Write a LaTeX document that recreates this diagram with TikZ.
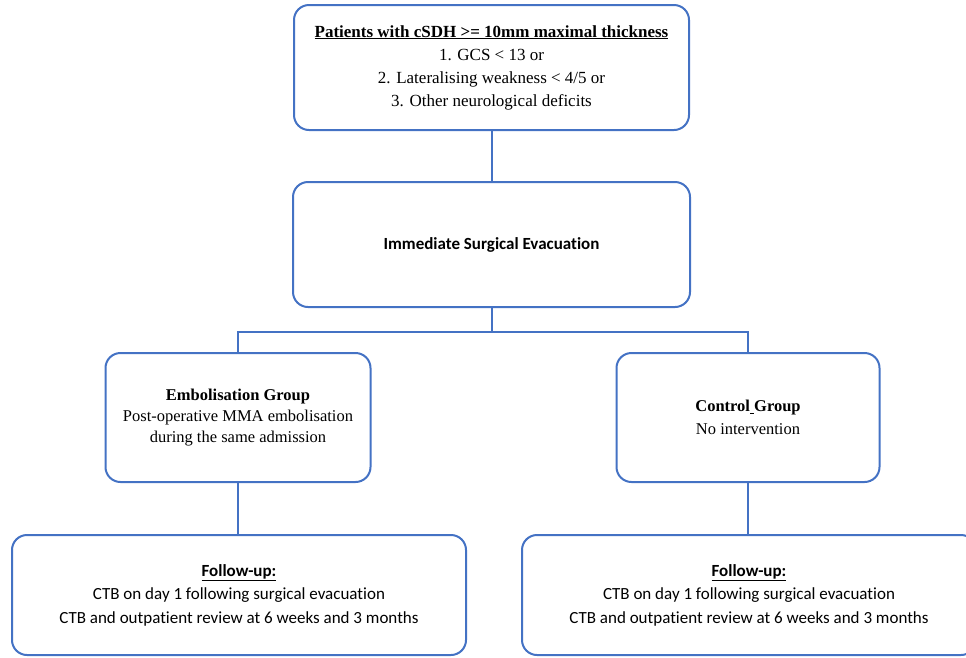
\documentclass[tikz,border=0pt]{standalone}
\usepackage{fontspec}
\setmainfont{Liberation Serif}
\newfontfamily\calfont[Ligatures=NoCommon]{Carlito}
\definecolor{boxblue}{HTML}{4472C4}
\begin{document}
\begin{tikzpicture}[x=1pt,y=-1pt,
  box/.style={draw=boxblue, line width=2pt, rounded corners=15pt, fill=white, align=center, inner sep=0pt},
  link/.style={draw=boxblue, line width=2pt}]
\useasboundingbox (0,0) rectangle (966,657);
\clip (0,0) rectangle (966,657);
\node[box, minimum width=395pt, minimum height=125pt, font=\fontsize{17}{23}\selectfont] (top) at (491.5,67.5)
  {\underline{\textbf{Patients with cSDH >= 10mm maximal thickness}}\\
   1. GCS < 13 or\\ 2. Lateralising weakness < 4/5 or\\ 3. Other neurological deficits};
\node[box, minimum width=397pt, minimum height=125pt, font=\calfont\bfseries\fontsize{17}{20}\selectfont] (mid) at (491.5,244.5)
  {Immediate Surgical Evacuation};
\node[box, minimum width=265pt, minimum height=129pt, font=\fontsize{16.5}{21}\selectfont] (emb) at (238,417.5)
  {\textbf{Embolisation Group}\\ Post-operative MMA embolisation\\ during the same admission};
\node[box, minimum width=263pt, minimum height=129pt, font=\fontsize{16.5}{23}\selectfont] (ctrl) at (748,417.5)
  {\textbf{Control\underline{\ }Group}\\ No intervention};
\node[box, minimum width=454pt, minimum height=120pt, font=\calfont\fontsize{17}{23.5}\selectfont] (ful) at (239,595)
  {\underline{\textbf{Follow-up:}}\\ CTB on day 1 following surgical evacuation\\ CTB and outpatient review at 6 weeks and 3 months};
\node[box, minimum width=454pt, minimum height=120pt, font=\calfont\fontsize{17}{23.5}\selectfont] (fur) at (749,595)
  {\underline{\textbf{Follow-up:}}\\ CTB on day 1 following surgical evacuation\\ CTB and outpatient review at 6 weeks and 3 months};
\coordinate (j) at (491.5,332);
\draw[link] (top.south) -- (mid.north);
\draw[link] (mid.south) -- (j);
\draw[link] (emb.north) |- (j) -| (ctrl.north);
\draw[link] (emb.south) -- (emb.south |- ful.north);
\draw[link] (ctrl.south) -- (ctrl.south |- fur.north);
\end{tikzpicture}
\end{document}
